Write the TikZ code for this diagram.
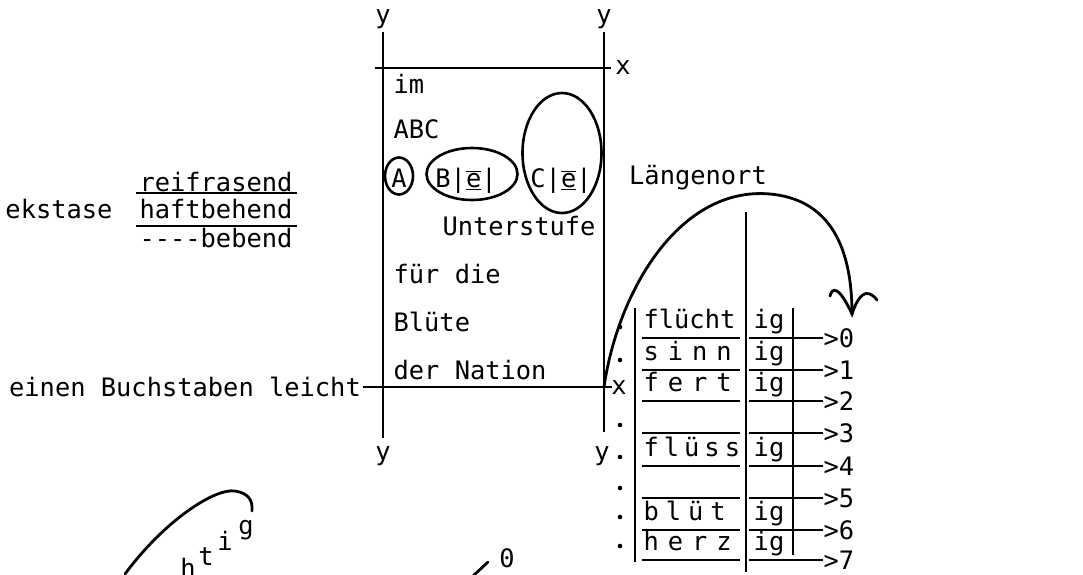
\documentclass[tikz,border=0pt]{standalone}
\usepackage{fontspec}
\setmonofont{DejaVu Sans Mono}
\usetikzlibrary{shapes.geometric}
\newcommand\ebar{$\overline{\underline{\mbox{e}}}$}
\newcommand\gap{\hspace{9pt}}

\begin{document}
\begin{tikzpicture}
[x=1pt,y=-1pt,line width=1.2pt,
 every node/.style={font=\ttfamily\fontsize{25.4}{30}\selectfont,inner sep=2pt},
 ring/.style={draw,ellipse,line width=2.6pt,inner sep=0pt},
 bow/.style={line width=2.8pt,line cap=round}]
\useasboundingbox (0,0) rectangle (1083,574);

% frame
\node (yTL) at (383,19) {y};
\node (yTR) at (604,19) {y};
\node (yBL) at (383,456) {y};
\node (yBR) at (602,456) {y};
\draw (383,32) -- (383,438);
\draw (604,32) -- (604,432);
\draw (375,68) -- (611,68);
\node (xT) at (623,68) {x};
\node (xB) at (619,388) {x};
\node (lab) at (185,387) {einen Buchstaben leicht};
\draw (lab.east) -- (612,387);

% inside the frame
\node[anchor=west] (im) at (391,84) {im};
\node[anchor=west] (abc) at (391,129) {ABC};
\node[anchor=base] (A) at (399,187) {A};
\node[anchor=base] (B) at (466,187) {B|\ebar|};
\node[anchor=base] (C) at (561,187) {C|\ebar|};
\node[ring,minimum width=28,minimum height=37] (ringA) at (399,176) {};
\node[ring,minimum width=91,minimum height=52] (ringB) at (472,174) {};
\node[ring,minimum width=79,minimum height=120] (ringC) at (562,153) {};
\node (unter) at (519,226) {Unterstufe};
\node[anchor=west] (fuer) at (391,274) {für die};
\node[anchor=west] (bluete) at (391,322) {Blüte};
\node[anchor=west] (nation) at (391,370) {der Nation};
\node (laenge) at (698,178) {Längenort};

% left block
\node (ek) at (59,209) {ekstase};
\node (reif) at (216,182) {reifrasend};
\node (haft) at (216,209) {haftbehend};
\node (beb) at (216,238) {----bebend};
\draw (136,193) -- (297,193);
\draw (136,226) -- (297,226);

% table
\draw (635,308) -- (635,562);
\draw (746,212) -- (746,572);
\draw (793,308) -- (793,555);
\foreach \r/\yy in {0/338,1/370,2/401,3/433,4/466,5/498,6/530,7/560}
{
  \draw (642,\yy) -- (740,\yy);
  \draw (749,\yy) -- (823,\yy) node[anchor=west,inner sep=0pt] (n\r) {>\r};
}
\foreach \w/\yy [count=\k] in {flücht/328,s\gap i\gap n\gap n/360,f\gap e\gap r\gap t/391,
  f\hspace{5pt}l\hspace{5pt}ü\hspace{5pt}s\hspace{5pt}s/456,b\hspace{7pt}l\hspace{7pt}ü\hspace{7pt}t/520,h\gap e\gap r\gap z/550}
{
  \node[anchor=base west] (w\k) at (641,\yy) {\w};
  \node[anchor=base] (ig\k) at (769,\yy) {ig};
}
\foreach \yy in {327,360,425,457,488,517,546}
  \fill (620,\yy) circle (2.3);

% curves
\coordinate (start) at (604,387);
\coordinate (tip) at (852,314);
\draw[bow] (start) .. controls (618,290) and (680,186) .. (770,194)
  .. controls (825,199) and (852,240) .. (tip);
\draw[bow] (830,296) .. controls (832,288) and (838,284) .. (tip)
  .. controls (858,296) and (866,286) .. (877,300);
\draw[bow] (125,574) .. controls (165,520) and (215,488) .. (235,491)
  .. controls (248,493) and (253,500) .. (252,511);
\node (h) at (188,568) {h};
\node (t) at (206,557) {t};
\node (i) at (225,541) {i};
\node (g) at (246,530) {g};
\draw[bow] (473,576) -- (488,562);
\node (zero) at (507,558) {0};
\end{tikzpicture}
\end{document}
